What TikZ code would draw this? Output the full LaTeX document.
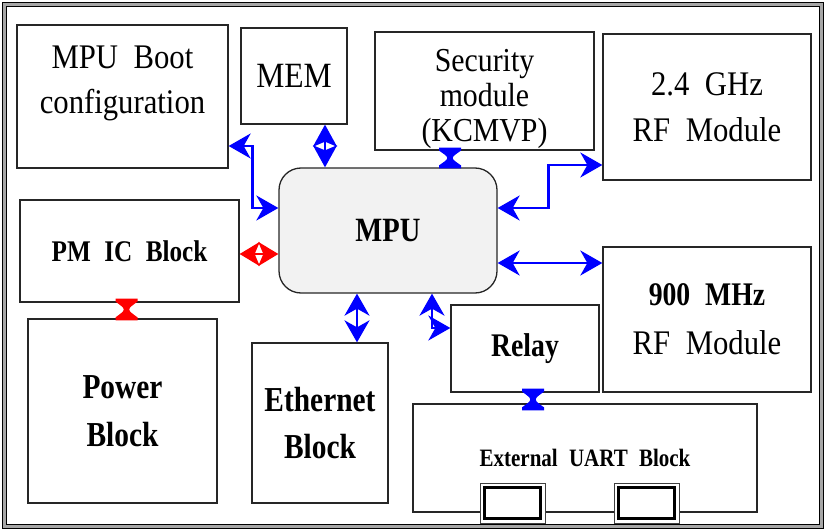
\documentclass[tikz,border=0pt]{standalone}
\usepackage{fontspec}
\setmainfont{Liberation Serif}
\newfontfamily\rgf{Liberation Serif}[FakeStretch=0.89]
\newfontfamily\bdf{Liberation Serif}[FakeStretch=0.84]
\usetikzlibrary{arrows.meta,calc}
\definecolor{mpufill}{RGB}{242,242,242}
\definecolor{boxline}{RGB}{38,38,38}
\newcommand\wsp{\hspace{0.45em}}
% hourglass joint between two blocks: colour, top point, bottom point
\newcommand\hglass[3]{%
  \fill[#1] ($(#2)+(-11,0)$) -- ($(#2)+(11,0)$) -- ($(#2)+(11,3)$)
    .. controls ($(#2)!0.5!(#3)$) .. ($(#3)+(11,-3)$) -- ($(#3)+(11,0)$)
    -- ($(#3)+(-11,0)$) -- ($(#3)+(-11,-3)$)
    .. controls ($(#2)!0.5!(#3)$) .. ($(#2)+(-11,3)$) -- cycle;}
\begin{document}
\begin{tikzpicture}[x=1pt,y=-1pt,
  box/.style={draw=boxline, line width=1.3pt, rectangle, inner sep=0pt, align=center},
  txt/.style={inner sep=0pt, align=center},
  barrow/.style={draw=blue, line width=2.3pt,
    {Stealth[length=22pt,width=25pt,inset=7pt]}-{Stealth[length=22pt,width=25pt,inset=7pt]}},
  darrow/.style={draw=blue, line width=2.3pt,
    {Stealth[length=22pt,width=24pt,inset=5pt]}-{Stealth[length=22pt,width=24pt,inset=5pt]}},
  rarrow/.style={draw=red, line width=2.3pt,
    {Stealth[length=20pt,width=24pt,inset=5pt]}-{Stealth[length=20pt,width=24pt,inset=5pt]}},
  conn/.style={draw=black!75, line width=0.8pt, fill=white, rectangle, inner sep=0pt,
    minimum width=65pt, minimum height=40pt}
]
\useasboundingbox (0,0) rectangle (827,532);
% outer double frame
\draw[line width=4pt, black!35] (4.5,4.5) rectangle (821.5,526.5);
\draw[line width=1.8pt] (2.5,2.5) rectangle (823.5,528.5);
\draw[line width=1.2pt] (6.5,6.5) rectangle (819.5,524.5);

% blocks
\node[box, minimum width=211pt, minimum height=143pt] (boot) at (122.5,96.5) {};
\node[txt, font=\rgf\fontsize{34.5}{45}\selectfont] (bootl) at (122.5,83) {MPU\wsp Boot\\configuration};

\node[box, minimum width=106pt, minimum height=96pt, font=\rgf\fontsize{35.5}{40}\selectfont] (mem) at (294,76) {MEM};

\node[box, minimum width=219pt, minimum height=118pt] (sec) at (484.5,91) {};
\node[txt, font=\rgf\fontsize{33.5}{35}\selectfont] (secl) at (484.5,99) {Security\\module\\(KCMVP)};

\node[box, minimum width=208pt, minimum height=146pt, font=\rgf\fontsize{34.5}{46}\selectfont] (rf24) at (707,107) {2.4\wsp GHz\\RF\wsp Module};

\node[draw=boxline, line width=1.3pt, rounded corners=22pt, fill=mpufill, inner sep=0pt,
  minimum width=218pt, minimum height=125pt, font=\bdf\bfseries\fontsize{34}{40}\selectfont] (mpu) at (388,230.5) {MPU};

\node[box, minimum width=219pt, minimum height=102pt, font=\bdf\bfseries\fontsize{30}{36}\selectfont] (pmic) at (129.5,251) {PM\wsp IC\wsp Block};

\node[box, minimum width=189pt, minimum height=184pt, font=\bdf\bfseries\fontsize{35}{48}\selectfont] (power) at (122.5,411) {Power\\Block};

\node[box, minimum width=136pt, minimum height=160pt, font=\bdf\bfseries\fontsize{35}{47}\selectfont] (eth) at (320,423) {Ethernet\\Block};

\node[box, minimum width=148pt, minimum height=87pt, font=\bdf\bfseries\fontsize{33}{40}\selectfont] (relay) at (525,348.5) {Relay};

\node[box, minimum width=208pt, minimum height=145pt, font=\rgf\fontsize{34.5}{49}\selectfont] (rf9) at (707,319.5) {{\bdf\bfseries\fontsize{33}{49}\selectfont 900\wsp MHz}\\RF\wsp Module};

\node[box, minimum width=344pt, minimum height=108pt, font=\bdf\bfseries\fontsize{25}{30}\selectfont] (uart) at (585,458) {External\wsp UART\wsp Block};

% UART connectors
\node[conn] (conA) at (512.5,503) {};
\draw[line width=3pt] ($(conA.north west)+(4.5,4.5)$) rectangle ($(conA.south east)+(-4.5,-4.5)$);
\node[conn] (conB) at (646.5,503) {};
\draw[line width=3pt] ($(conB.north west)+(4.5,4.5)$) rectangle ($(conB.south east)+(-4.5,-4.5)$);

% connectors
\draw[barrow] ([yshift=-49.5pt]boot.east) -| ([xshift=-26pt,yshift=22.5pt]mpu.west) -- ([yshift=22.5pt]mpu.west);

\coordinate (memp) at ([xshift=31pt]mem.south);
\draw[darrow] (memp) -- (memp |- mpu.north);

\coordinate (s1) at ($(sec.south)+(-34.5,-3)$);
\coordinate (s2) at ($(s1 |- mpu.north)+(0,1)$);
\hglass{blue}{s1}{s2}

\draw[barrow] ([yshift=22.5pt]mpu.east) -| ([xshift=-54pt,yshift=-58pt]rf24.west) -- ([yshift=-58pt]rf24.west);

\coordinate (m9) at ([yshift=-32.5pt]mpu.east);
\draw[barrow] (m9) -- (m9 -| rf9.west);

\coordinate (pm1) at ([yshift=-3pt]pmic.east);
\draw[rarrow] (pm1) -- (pm1 -| mpu.west);

\coordinate (p1) at ($(pmic.south)+(-3,-4)$);
\coordinate (p2) at ($(p1 |- power.north)+(0,2)$);
\hglass{red}{p1}{p2}

\coordinate (e1) at ([xshift=37pt]eth.north);
\draw[barrow] (e1 |- mpu.south) -- (e1);

\coordinate (r1) at ([xshift=44pt]mpu.south);
\draw[barrow] (r1) |- ([yshift=20.5pt]relay.west);

\coordinate (u1) at ($(relay.south)+(8,-4)$);
\coordinate (u2) at ($(u1 |- uart.north)+(0,7)$);
\hglass{blue}{u1}{u2}
\end{tikzpicture}
\end{document}
